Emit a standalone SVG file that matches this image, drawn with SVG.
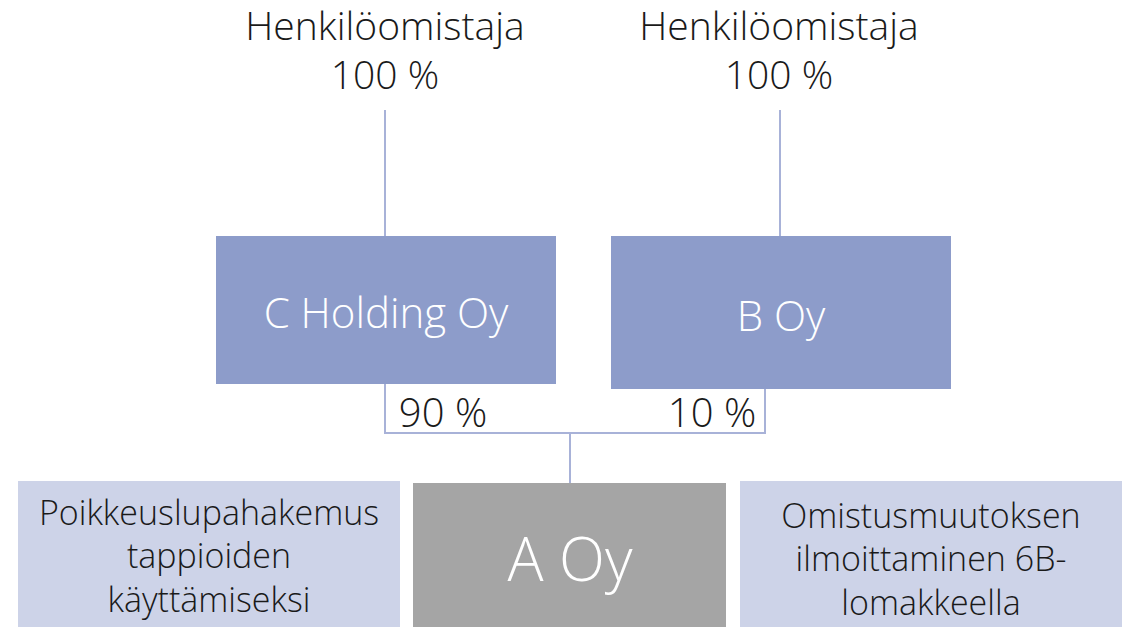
<svg xmlns="http://www.w3.org/2000/svg" width="1137" height="627" viewBox="0 0 1137 627">
  <style>
    text { font-family: "Open Sans", "Noto Sans", "Liberation Sans", sans-serif; font-weight: 300; text-anchor: middle; }
    .dark { fill: #1a1a1a; }
    .light { fill: #ffffff; }
    .owner { fill: #8d9cca; }
    .note { fill: #cdd3e8; }
    .target { fill: #a5a5a5; }
    .link { fill: none; stroke: #a8b2d8; stroke-width: 2; }
  </style>
  <rect width="1137" height="627" fill="#ffffff"/>

  <!-- ownership lines -->
  <g id="connectors">
    <line class="link" x1="385" y1="110" x2="385" y2="236"/>
    <line class="link" x1="780" y1="110" x2="780" y2="236"/>
    <polyline class="link" points="385,384 385,433 765,433 765,389"/>
    <line class="link" x1="570" y1="433" x2="570" y2="483"/>
  </g>

  <g id="owner-c">
    <text class="dark" x="385" y="40" font-size="39">Henkilöomistaja</text>
    <text class="dark" x="385" y="89" font-size="39">100 %</text>
  </g>
  <g id="owner-b">
    <text class="dark" x="779" y="40" font-size="39">Henkilöomistaja</text>
    <text class="dark" x="779" y="89" font-size="39">100 %</text>
  </g>

  <g id="c-holding">
    <rect class="owner" x="216" y="236" width="340" height="148"/>
    <text class="light" x="386" y="328" font-size="42">C Holding Oy</text>
  </g>
  <g id="b-oy">
    <rect class="owner" x="611" y="236" width="340" height="153"/>
    <text class="light" x="781" y="331" font-size="42">B Oy</text>
  </g>

  <g id="share-labels">
    <text class="dark" x="443" y="427" font-size="40">90 %</text>
    <text class="dark" x="712" y="427" font-size="40">10 %</text>
  </g>

  <g id="exemption">
    <rect class="note" x="18" y="481" width="382" height="146"/>
    <text class="dark" x="209" y="525" font-size="34">Poikkeuslupahakemus</text>
    <text class="dark" x="209" y="568" font-size="34">tappioiden</text>
    <text class="dark" x="209" y="612" font-size="34">käyttämiseksi</text>
  </g>

  <g id="a-oy">
    <rect class="target" x="413" y="483" width="313" height="144"/>
    <text class="light" x="570" y="581" font-size="60">A Oy</text>
  </g>

  <g id="notification">
    <rect class="note" x="740" y="481" width="382" height="146"/>
    <text class="dark" x="931" y="528" font-size="34">Omistusmuutoksen</text>
    <text class="dark" x="931" y="571" font-size="34">ilmoittaminen 6B-</text>
    <text class="dark" x="931" y="615" font-size="34">lomakkeella</text>
  </g>
</svg>
